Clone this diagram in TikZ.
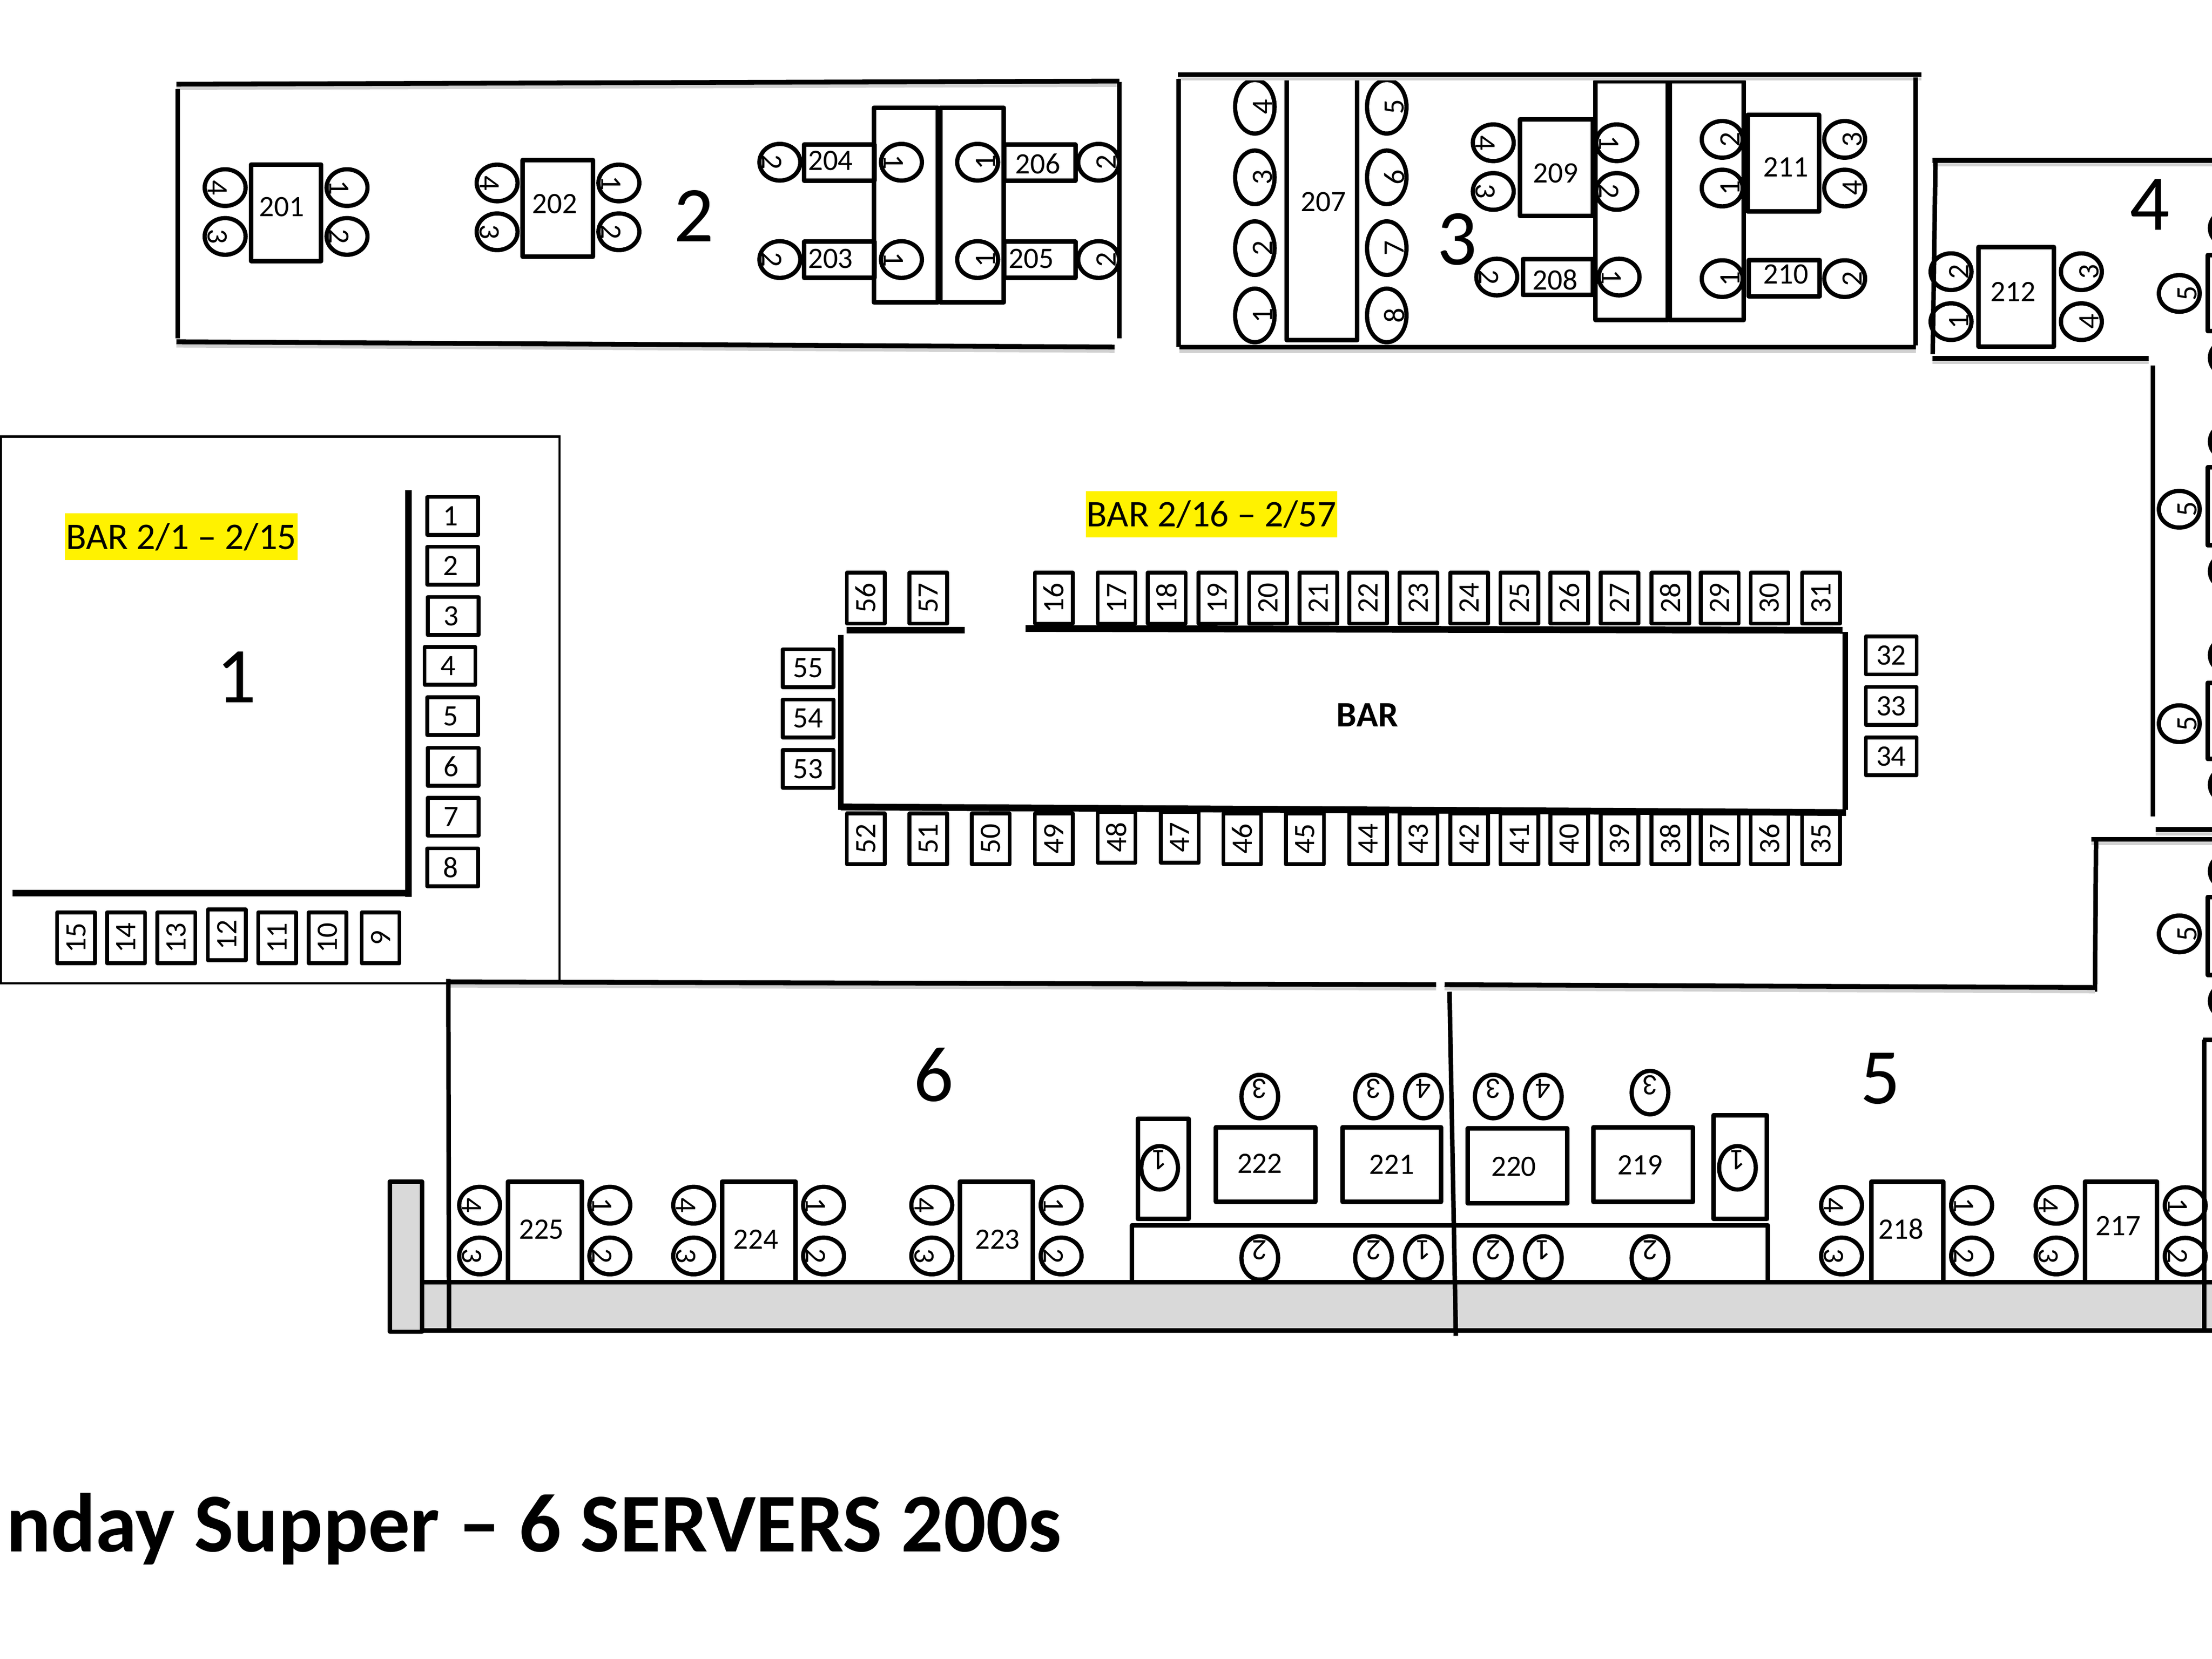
\documentclass[tikz,border=0pt]{standalone}
\usepackage{fontspec}
\setmainfont{Carlito}
\definecolor{bargray}{HTML}{D9D9D9}
\newcommand{\srx}{7.25pt}
\newcommand{\sry}{6.5pt}
\tikzset{
  tbl/.style={draw=black,line width=1.6pt,line join=round},
  seatline/.style={draw=black,line width=1.5pt},
  lab/.style={inner sep=0pt,outer sep=0pt,font=\fontsize{10.5}{12}\selectfont},
  barbox/.style={draw=black,line width=1.35pt,line join=round,inner sep=0pt,outer sep=0pt,minimum width=18pt,minimum height=13.4pt,font=\fontsize{10.5}{12}\selectfont},
  wall/.style={draw=black,line width=1.7pt,preaction={draw=black!18,line width=1.9pt,transform canvas={yshift=-1.1pt}}},
  plainwall/.style={draw=black,line width=1.6pt},
  zonelabel/.style={inner sep=0pt,font=\fontsize{28}{30}\selectfont},
  hilite/.style={fill=yellow,inner sep=0pt,font=\fontsize{13.3}{15}\selectfont},
}
\newcommand{\tb}[7]{\draw[tbl] (#1,#2) rectangle (#3,#4); \node[lab] at (#6,#7) {#5};}
\newcommand{\seatcw}[3]{\draw[seatline] (#1,#2) ellipse [x radius=\srx,y radius=\sry]; \node[lab,rotate=-90] at ([xshift=-2.75pt]#1,#2) {#3};}
\newcommand{\seatccw}[3]{\draw[seatline] (#1,#2) ellipse [x radius=\srx,y radius=\sry]; \node[lab,rotate=90] at ([xshift=2.75pt]#1,#2) {#3};}
\newcommand{\seatup}[3]{\draw[seatline] (#1,#2) ellipse [x radius=\srx,y radius=\sry]; \node[lab,rotate=180] at ([yshift=2.75pt]#1,#2) {#3};}
\begin{document}
\begin{tikzpicture}[x=0.5pt,y=-0.5pt]
\useasboundingbox (0,0) rectangle (1568,1176);
\clip (0,0) rectangle (1568,1176);
\fill[white] (0,0) rectangle (1568,1176);

% zone 1 frame
\draw[black,line width=0.75pt] (0.7,309.5) rectangle (396.6,697);
\node[hilite,minimum width=82.5pt,minimum height=16.5pt] (hl1) at (128.5,380.5) {BAR 2/1 – 2/15};
\node[zonelabel] (z1) at (167.5,480) {1};
\draw[black,line width=2.3pt] (289.7,347.4) -- (289.7,635.6);
\draw[black,line width=2.3pt] (9,633) -- (291,633);
\foreach \n/\x/\y in {1/320.9/365.7,2/320.9/401,3/321.3/436.6,4/319/472,5/320.9/507.7,6/321.3/543.5,7/321.3/579,8/320.9/614.8}
  \node[barbox] (b\n) at (\x,\y) {\n\kern1.5pt};
\foreach \n/\x/\y in {15/53.9/664.8,14/89.4/664.8,13/125/664.8,12/160.8/662.7,11/196.4/664.8,10/232.2/664.8,9/269.8/664.8}
  \node[barbox,rotate=90] (b\n) at (\x,\y) {\n};

% main bar
\node[hilite,minimum width=89.2pt,minimum height=16.5pt] (hl2) at (858.8,364.5) {BAR 2/16 – 2/57};
\foreach \n/\x in {56/613.7,57/658,16/747,17/791.5,18/827,19/863,20/898.8,21/934.6,22/969.8,23/1005.6,24/1041.4,25/1077,26/1112.4,27/1148,28/1184,29/1219,30/1254.4,31/1290.8}
  \node[barbox,rotate=90] (b\n) at (\x,424) {\n};
\foreach \n/\x in {52/613.7,51/658,50/702.3,49/747,46/880.6,45/925,44/969.8,43/1005.6,42/1041.4,41/1077,40/1112.4,39/1148,38/1184,37/1219,36/1254.4,35/1290.8}
  \node[barbox,rotate=90] (b\n) at (\x,594.6) {\n};
\foreach \n/\x in {48/791.5,47/836.3}
  \node[barbox,rotate=90] (b\n) at (\x,593.6) {\n};
\foreach \n/\y in {55/473.7,54/509.3,53/545}
  \node[barbox] (b\n) at (572.8,\y) {\n};
\foreach \n/\y in {32/464.6,33/500.4,34/536.2}
  \node[barbox] (b\n) at (1340.6,\y) {\n};
\draw[black,line width=2.3pt] (600,446.8) -- (684,446.8);
\draw[black,line width=2.4pt] (727,445.5) -- (1306,446.8);
\draw[black,line width=2.1pt] (596,450) -- (596,574);
\draw[black,line width=2.1pt] (1308,448) -- (1308,574);
\draw[black,line width=2.4pt] (596,572) -- (1308.5,576);
\node[inner sep=0pt,font=\fontsize{12.7}{15}\selectfont\bfseries] (barname) at (969.3,506.8) {BAR};

% zone 2
\tb{178}{116.6}{227.7}{185}{201}{199.6}{146.6}
\seatcw{159.6}{133}{4}\seatcw{159.6}{167.6}{3}\seatcw{246}{133}{1}\seatcw{246}{167.6}{2}
\tb{370.5}{113.5}{420.2}{182}{202}{393.3}{144.7}
\seatcw{352.4}{129.7}{4}\seatcw{352.4}{164.3}{3}\seatcw{438.7}{129.7}{1}\seatcw{438.7}{164.3}{2}
\draw[tbl] (619.5,76.3) rectangle (664.9,214.4);
\draw[tbl] (666.5,76.3) rectangle (711.5,214.4);
\tb{570}{102.5}{620}{128}{204}{588.7}{114}
\tb{570}{171.4}{620}{197}{203}{588.7}{183.5}
\tb{712}{102.5}{762.3}{128}{206}{735.7}{116}
\tb{712}{171.4}{762.3}{197}{205}{731}{183.5}
\seatcw{552.8}{115}{2}\seatcw{552.8}{184}{2}\seatcw{639}{115}{1}\seatcw{639}{184}{1}
\seatccw{693}{115}{1}\seatccw{693}{184}{1}\seatccw{778.8}{115}{2}\seatccw{778.8}{184}{2}
\node[zonelabel] (z2) at (492,153) {2};
\draw[wall] (125,59.7) -- (793.5,57.5);
\draw[plainwall] (126,63) -- (126,240);
\draw[plainwall] (793.5,58) -- (793.5,240);
\draw[wall] (125,242.3) -- (790,246);

% zone 3
\draw[tbl] (912,55) rectangle (962,241);
\node[lab] at (938,143) {207};
\begingroup
\renewcommand{\srx}{7pt}\renewcommand{\sry}{9.5pt}
\seatccw{889.5}{75.7}{4}\seatccw{889.5}{125.7}{3}\seatccw{889.5}{175.9}{2}\seatccw{889.5}{223.6}{1}
\seatccw{983}{75.7}{5}\seatccw{983}{125.7}{6}\seatccw{983}{175.9}{7}\seatccw{983}{223.6}{8}
\endgroup
\draw[tbl] (1131,57.5) rectangle (1182.2,227);
\draw[tbl] (1183.8,57.5) rectangle (1236,227);
\tb{1077.5}{84.5}{1129}{153}{209}{1102.6}{122.7}
\seatcw{1058.5}{101.2}{4}\seatcw{1058.5}{135.7}{3}\seatcw{1146}{101.2}{1}\seatcw{1146}{135.7}{2}
\tb{1079.5}{183.8}{1129}{209}{208}{1102.4}{198.4}
\seatcw{1061}{196.4}{2}\seatcw{1147.7}{196.4}{1}
\tb{1239}{81.5}{1289.5}{150}{211}{1266}{118.4}
\seatccw{1220.8}{98.8}{2}\seatccw{1220.8}{133.3}{1}\seatccw{1307.6}{98.8}{3}\seatccw{1307.6}{133.3}{4}
\tb{1239.5}{184.5}{1290}{210}{210}{1266}{194.3}
\seatccw{1220.8}{197.5}{1}\seatccw{1307.6}{197.5}{2}
\node[zonelabel] (z3) at (1033,169.5) {3};
\draw[wall] (835,53) -- (1362,53);
\draw[plainwall] (835.5,56) -- (835.5,246);
\draw[wall] (836,246) -- (1358,246);
\draw[plainwall] (1358,55) -- (1358,245);

% zone 4
\tb{1402.5}{175.3}{1456}{245.8}{212}{1427}{207}
\seatccw{1383}{192.6}{2}\seatccw{1383}{228}{1}\seatccw{1475.4}{192.6}{3}\seatccw{1475.4}{228}{4}
\node[zonelabel] (z4) at (1524,145) {4};
\foreach \ya/\yb/\yc/\yd/\ye in {161.7/181/208/234.5/253.7,313/331.4/361/386.6/405,464.4/484/513/538/556.3,617.6/636/662/691/709.6}{
  \draw[tbl] (1565,\yb) rectangle (1600,\yd);
  \draw[seatline] (1581,\ya) ellipse [x radius=\srx,y radius=\sry];
  \draw[seatline] (1581,\ye) ellipse [x radius=\srx,y radius=\sry];
  \seatccw{1544.8}{\yc}{5}
}
\draw[wall] (1370,113.7) -- (1568,113.7);
\draw[plainwall] (1372,113) -- (1370,251);
\draw[wall] (1370,254) -- (1523,254);
\draw[plainwall] (1526,259) -- (1526,578.8);
\draw[wall] (1528,588) -- (1568,588);
\draw[wall] (1482.6,595) -- (1568,595);
\draw[plainwall] (1485.8,595) -- (1485,703);

% zone 5 and 6 tables
\draw[tbl] (802.5,868.5) rectangle (1253,912);
\draw[tbl] (806.5,793) rectangle (842.5,864);
\draw[tbl] (1214.5,790.5) rectangle (1252.5,864);
\tb{862}{799}{932.5}{852}{222}{893}{824.9}
\tb{951.5}{799}{1021.5}{852}{221}{986.5}{825.4}
\tb{1040.5}{800}{1111}{853}{220}{1073}{826.8}
\tb{1129.5}{799}{1200}{852}{219}{1162.5}{826}
\begingroup
\renewcommand{\srx}{6.5pt}\renewcommand{\sry}{7.7pt}
\seatup{822}{827.8}{1}\seatup{1231.6}{827.8}{1}
\seatup{893}{777.3}{3}\seatup{973.6}{777.3}{3}\seatup{1009}{777.3}{4}\seatup{1058.5}{777.3}{3}\seatup{1094}{777.3}{4}\seatup{1169.6}{774.5}{3}
\seatup{893}{891.7}{2}\seatup{973.6}{891.7}{2}\seatup{1009}{891.7}{1}\seatup{1058.5}{891.7}{2}\seatup{1094}{891.7}{1}\seatup{1169.6}{891.7}{2}
\endgroup
\tb{360.2}{837.5}{412.5}{915}{225}{383.8}{871.4}
\tb{512}{837.5}{564}{915}{224}{535.7}{878.5}
\tb{680.5}{837.5}{732.3}{915}{223}{707}{878.5}
\tb{1326.5}{837.5}{1377.5}{915}{218}{1347.5}{871}
\tb{1478}{837.5}{1529}{915}{217}{1501.6}{869}
\seatcw{340}{854.3}{4}\seatcw{340}{890.3}{3}\seatcw{432.3}{854.3}{1}\seatcw{432.3}{890.3}{2}
\seatcw{491.7}{854.3}{4}\seatcw{491.7}{890.3}{3}\seatcw{583.8}{854.3}{1}\seatcw{583.8}{890.3}{2}
\seatcw{660.5}{854.3}{4}\seatcw{660.5}{890.3}{3}\seatcw{752.2}{854.3}{1}\seatcw{752.2}{890.3}{2}
\seatcw{1305.4}{854.4}{4}\seatcw{1305.4}{890.3}{3}\seatcw{1397.6}{854.4}{1}\seatcw{1397.6}{890.3}{2}
\seatcw{1457.5}{854.4}{4}\seatcw{1457.5}{890.3}{3}\seatcw{1549}{854.6}{1}\seatcw{1549}{890.5}{2}
\draw[black,fill=bargray,line width=1.6pt] (299,908.8) rectangle (1600,943);
\draw[tbl,fill=bargray] (276.3,837.5) rectangle (299,944);
\node[zonelabel] (z6) at (662,762) {6};
\node[zonelabel] (z5) at (1333,764.5) {5};
\draw[wall] (317,696) -- (1018,698);
\draw[wall] (1024,698) -- (1485,700);
\draw[plainwall] (317.8,694) -- (318.3,943);
\draw[plainwall] (1027.5,703) -- (1032,947);
\draw[plainwall] (1562.5,737) -- (1562.5,943);
\draw[plainwall] (1561.7,737) -- (1568,737);

% title
\node[anchor=base west,inner sep=0pt,font=\fontsize{29.6}{32}\selectfont\bfseries] (title) at (4,1100) {nday Supper – 6 SERVERS 200s};
\end{tikzpicture}
\end{document}
